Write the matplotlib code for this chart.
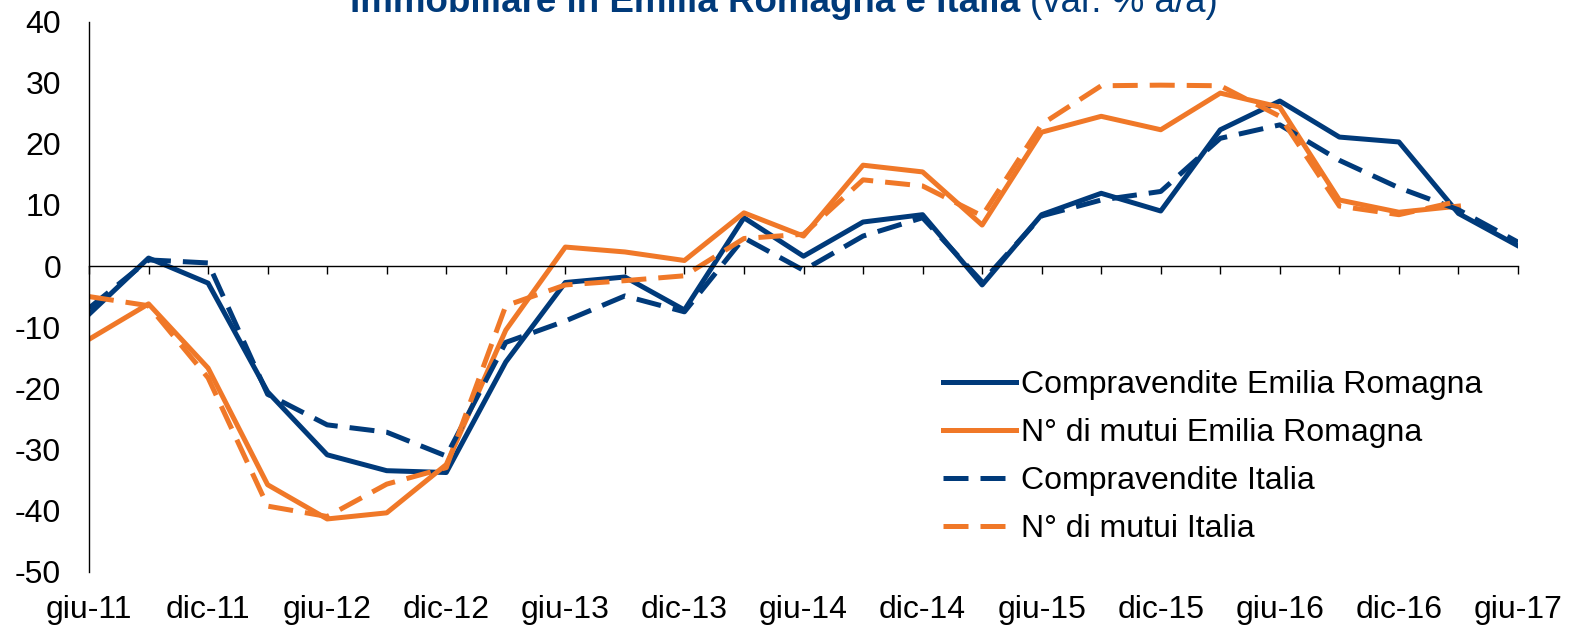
import matplotlib
matplotlib.use('Agg')
import matplotlib.pyplot as plt

plt.rcParams['font.family'] = ['Liberation Sans', 'DejaVu Sans']
plt.rcParams['axes.unicode_minus'] = False

# quarters from giu-11 to giu-17
QUARTERS = ['giu-11', 'set-11', 'dic-11', 'mar-12', 'giu-12', 'set-12', 'dic-12',
            'mar-13', 'giu-13', 'set-13', 'dic-13', 'mar-14', 'giu-14', 'set-14',
            'dic-14', 'mar-15', 'giu-15', 'set-15', 'dic-15', 'mar-16', 'giu-16',
            'set-16', 'dic-16', 'mar-17', 'giu-17']

COMPRA_ER = [-7.9, 1.3, -2.8, -20.6, -30.9, -33.5, -33.8, -15.7, -2.7, -1.8, -7.2,
             7.9, 1.6, 7.2, 8.4, -3.1, 8.4, 11.9, 9.0, 22.3, 27.0, 21.1, 20.3, 8.6, 3.3]
MUTUI_ER = [-12.0, -6.2, -16.7, -35.8, -41.4, -40.4, -32.5, -10.5, 3.1, 2.3, 0.9,
            8.7, 4.9, 16.5, 15.4, 6.7, 21.9, 24.5, 22.3, 28.3, 26.0, 10.8, 8.8, 9.8]
COMPRA_IT = [-6.9, 1.0, 0.5, -21.0, -26.0, -27.2, -31.1, -12.5, -9.0, -4.9, -7.5,
             4.6, -0.7, 4.9, 7.9, -2.6, 8.2, 10.8, 12.2, 20.9, 23.1, 17.3, 12.8, 9.2, 3.9]
MUTUI_IT = [-5.0, -6.5, -18.3, -39.3, -41.0, -35.7, -33.0, -6.5, -3.1, -2.4, -1.6,
            4.5, 5.2, 14.1, 13.1, 8.2, 23.2, 29.5, 29.6, 29.5, 24.5, 9.8, 8.4, 10.6]

BLUE = '#003A7A'
ORANGE = '#F07828'

W, H = 1574, 627
fig = plt.figure(figsize=(W / 100, H / 100), dpi=100)
ax = fig.add_axes([89 / W, 1 - 571.5 / H, (1518 - 89) / W, (571.5 - 21.6) / H])

xs = list(range(len(QUARTERS)))
DASH = (5, 2.4)
ax.plot(xs, COMPRA_ER, color=BLUE, lw=3.6, label='Compravendite Emilia Romagna')
ax.plot(xs[:len(MUTUI_ER)], MUTUI_ER, color=ORANGE, lw=3.6, label='N° di mutui Emilia Romagna')
ax.plot(xs, COMPRA_IT, color=BLUE, lw=3.6, dashes=DASH, label='Compravendite Italia')
ax.plot(xs[:len(MUTUI_IT)], MUTUI_IT, color=ORANGE, lw=3.6, dashes=DASH, label='N° di mutui Italia')

ax.set_xlim(0, len(QUARTERS) - 1)
ax.set_ylim(-50, 40)
ax.set_yticks(range(-50, 41, 10))
ax.tick_params(axis='y', length=0, labelsize=23, pad=20)

for s in ['top', 'right']:
    ax.spines[s].set_visible(False)
ax.spines['left'].set_linewidth(1)
ax.spines['bottom'].set_position(('data', 0))
ax.spines['bottom'].set_linewidth(1)
ax.set_xticks(xs)
ax.tick_params(axis='x', direction='out', length=6, width=1, labelbottom=False)

sec = ax.secondary_xaxis('bottom')
sec.set_xticks(xs[::2], QUARTERS[::2])
sec.spines['bottom'].set_visible(False)
sec.tick_params(length=0, labelsize=23, pad=17)

ax.legend(loc='center left', bbox_to_anchor=(943 / W, 1 - 457 / H), bbox_transform=fig.transFigure,
          frameon=False, fontsize=23, borderpad=0, borderaxespad=0,
          handlelength=2.3, handletextpad=0.15, labelspacing=0.57)

fig.text(1020 / W, 1 - 12 / H, 'Immobiliare in Emilia Romagna e Italia', ha='right', va='baseline',
         fontsize=26.5, fontweight='bold', color=BLUE)
fig.text(1030 / W, 1 - 12 / H, '(var. % a/a)', ha='left', va='baseline',
         fontsize=26.5, color=BLUE)

fig.savefig('out.png', dpi=100)
